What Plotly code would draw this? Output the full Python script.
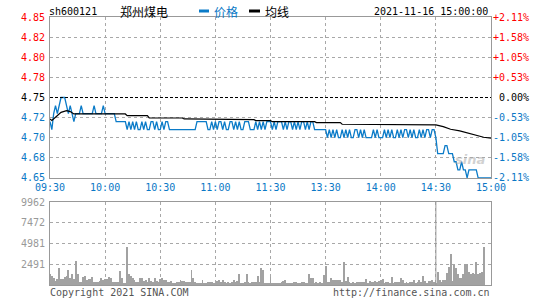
import plotly.graph_objects as go

# ---------------- data ----------------
symbol = "sh600121"
name = "郑州煤电"
timestamp = "2021-11-16 15:00:00"
legend_names = ["价格", "均线"]

time_ticks = [0, 30, 60, 90, 120, 150, 180, 210, 240]
time_labels = ["09:30", "10:00", "10:30", "11:00", "11:30", "13:30", "14:00", "14:30", "15:00"]

prev_close = 4.75
price_ticks = [4.85, 4.825, 4.80, 4.775, 4.75, 4.725, 4.70, 4.675, 4.65]
price_labels = ["4.85", "4.82", "4.80", "4.78", "4.75", "4.72", "4.70", "4.68", "4.65"]
pct_labels = ["+2.11%", "+1.58%", "+1.05%", "+0.53%", "0.00%", "-0.53%", "-1.05%", "-1.58%", "-2.11%"]

vol_ticks = [9962, 7472, 4981, 2491]
vol_labels = ["9962", "7472", "4981", "2491"]

# minute-by-minute price, morning (09:30-11:30) and afternoon (13:01-15:00)
price_am = [
    4.72, 4.71, 4.73, 4.74, 4.73, 4.74, 4.75, 4.75, 4.75, 4.74,
    4.73, 4.74, 4.73, 4.72, 4.73, 4.73, 4.73, 4.74, 4.73, 4.73,
    4.73, 4.73, 4.73, 4.73, 4.74, 4.73, 4.73, 4.73, 4.73, 4.74,
    4.73, 4.73, 4.73, 4.73, 4.73, 4.73, 4.72, 4.72, 4.72, 4.72,
    4.72, 4.72, 4.71, 4.72, 4.71, 4.72, 4.71, 4.72, 4.71, 4.71,
    4.72, 4.71, 4.72, 4.71, 4.71, 4.72, 4.72, 4.71, 4.72, 4.71,
    4.71, 4.72, 4.71, 4.72, 4.72, 4.71, 4.71, 4.71, 4.71, 4.71,
    4.71, 4.71, 4.71, 4.71, 4.71, 4.71, 4.71, 4.71, 4.71, 4.71,
    4.72, 4.72, 4.72, 4.72, 4.72, 4.72, 4.71, 4.71, 4.72, 4.71,
    4.72, 4.71, 4.72, 4.72, 4.71, 4.72, 4.71, 4.71, 4.72, 4.72,
    4.71, 4.72, 4.71, 4.72, 4.71, 4.71, 4.72, 4.72, 4.72, 4.71,
    4.71, 4.71, 4.72, 4.71, 4.72, 4.71, 4.72, 4.71, 4.72, 4.72,
    4.72,
]
price_pm = [
    4.71, 4.72, 4.71, 4.72, 4.72, 4.72, 4.71, 4.72, 4.71, 4.72,
    4.72, 4.71, 4.72, 4.71, 4.72, 4.71, 4.72, 4.72, 4.71, 4.72,
    4.71, 4.72, 4.72, 4.71, 4.71, 4.71, 4.71, 4.71, 4.71, 4.71,
    4.70, 4.71, 4.70, 4.71, 4.70, 4.71, 4.70, 4.70, 4.71, 4.70,
    4.71, 4.70, 4.71, 4.70, 4.70, 4.71, 4.71, 4.70, 4.71, 4.70,
    4.71, 4.70, 4.70, 4.70, 4.70, 4.71, 4.70, 4.71, 4.70, 4.70,
    4.70, 4.71, 4.70, 4.71, 4.70, 4.71, 4.70, 4.70, 4.71, 4.70,
    4.71, 4.70, 4.71, 4.71, 4.70, 4.71, 4.70, 4.71, 4.70, 4.70,
    4.71, 4.70, 4.71, 4.70, 4.71, 4.71, 4.70, 4.71, 4.71, 4.70,
    4.68, 4.68, 4.68, 4.68, 4.69, 4.69, 4.68, 4.68, 4.68, 4.67,
    4.67, 4.66, 4.66, 4.67, 4.66, 4.66, 4.65, 4.66, 4.66, 4.66,
    4.66, 4.66, 4.65, 4.65, 4.65, 4.65, 4.65, 4.65, 4.65, 4.65,
]

# average-price line read at its break points (minute index, value)
avg_minutes = [0, 1, 3, 6, 9, 11, 13, 41, 42, 53, 54, 72, 73, 90, 91, 111, 112, 120,
               121, 144, 145, 158, 159, 175, 176, 210, 214, 218, 223, 228, 232, 236, 240]
avg_values = [4.7233, 4.7215, 4.7255, 4.7315, 4.7336, 4.7325, 4.7295, 4.7295, 4.7274,
              4.7274, 4.7245, 4.7245, 4.7233, 4.7233, 4.7224, 4.7224, 4.7212, 4.7212,
              4.7199, 4.7199, 4.7187, 4.7187, 4.7167, 4.7167, 4.7158, 4.7158, 4.7137,
              4.7105, 4.7084, 4.7055, 4.7034, 4.7005, 4.6993]

volume_am = [
    1290, 1085, 800, 480, 680, 2010, 680, 760, 965, 1085,
    1770, 800, 1370, 680, 2890, 1290, 400, 400, 965, 1085,
    560, 680, 680, 1000, 400, 400, 320, 480, 880, 560,
    680, 680, 965, 800, 400, 400, 400, 400, 1690, 800,
    280, 300, 4580, 1370, 1085, 880, 560, 400, 400, 800,
    800, 480, 640, 400, 880, 480, 400, 880, 480, 400,
    680, 800, 560, 560, 320, 400, 480, 240, 240, 320,
    400, 640, 480, 480, 320, 320, 400, 1770, 800, 320,
    240, 240, 280, 560, 240, 240, 400, 320, 320, 240,
    240, 480, 640, 400, 640, 320, 240, 400, 240, 320,
    640, 320, 480, 1290, 240, 240, 320, 1370, 320, 240,
    320, 400, 400, 1085, 400, 2010, 1770, 240, 240, 280,
    965,
]
volume_pm = [
    160, 160, 160, 160, 160, 400, 480, 600, 160, 160,
    280, 160, 320, 400, 160, 160, 320, 400, 280, 280,
    1290, 800, 800, 240, 400, 280, 400, 280, 1200, 2330,
    400, 400, 800, 640, 560, 640, 560, 640, 320, 2810,
    480, 965, 320, 240, 400, 240, 400, 400, 320, 320,
    400, 720, 240, 480, 320, 320, 480, 400, 480, 560,
    720, 240, 320, 400, 240, 965, 280, 320, 400, 320,
    880, 560, 240, 400, 240, 320, 400, 560, 240, 400,
    560, 320, 1085, 480, 240, 480, 480, 640, 320, 240,
    1610, 560, 400, 560, 560, 1490, 2170, 3780, 480, 2410,
    2010, 1290, 880, 800, 1290, 2570, 2570, 1610, 1370, 1490,
    1290, 2810, 1290, 1490, 1610, 4580, 0, 0, 0, 0,
]

# ---------------- styling ----------------
BLUE = "#0b7bc8"
LBLUE = "#0a78c6"
RED = "#ff0000"
GRID = "#a8a8a8"
FRAME = "#999999"
MONO = "DejaVu Sans Mono"
CJK = "Noto Sans CJK SC"

W, H = 545, 300
L, R, T, B = 50, 491, 17, 285  # plot area pixels


def px(xp):
    return (xp - L) / (R - L)


def py(yp):
    return (B - yp) / (B - T)


price = price_am + price_pm
volume = volume_am + volume_pm
minutes = list(range(len(price)))
vol_minutes = list(range(len(volume)))

fig = go.Figure()
fig.add_trace(go.Bar(x=vol_minutes, y=volume, xaxis="x2", yaxis="y2",
                     marker=dict(color="#a2a2a2", line=dict(width=0)), width=0.5,
                     showlegend=False, hoverinfo="skip"))
fig.add_trace(go.Scatter(x=minutes, y=price, mode="lines",
                         line=dict(color=BLUE, width=1.3), showlegend=False))
fig.add_trace(go.Scatter(x=avg_minutes, y=avg_values, mode="lines",
                         line=dict(color="black", width=1.2), showlegend=False))

price_low = prev_close * (1 - 0.0211)
price_high = prev_close * (1 + 0.0211)
grid_prices = [v for v in price_ticks if v not in (price_ticks[0], price_ticks[-1], prev_close)]

fig.update_layout(
    width=W, height=H,
    margin=dict(l=L, r=W - R, t=T, b=H - B),
    paper_bgcolor="white", plot_bgcolor="white",
    bargap=0,
    xaxis=dict(domain=[0, 1], anchor="y", range=[0, 240],
               tickmode="array", tickvals=time_ticks, ticktext=time_labels,
               tickfont=dict(family=MONO, size=10, color=LBLUE), ticks="",
               showgrid=True, gridcolor=GRID, griddash="dot", gridwidth=1,
               showline=True, linecolor=FRAME, linewidth=1, mirror=True,
               zeroline=False, fixedrange=True),
    yaxis=dict(domain=[py(178), 1], anchor="x", range=[price_low, price_high],
               tickmode="array", tickvals=grid_prices, showticklabels=False,
               showgrid=True, gridcolor=GRID, griddash="dot", gridwidth=1,
               showline=True, linecolor=FRAME, linewidth=1, mirror=True,
               zeroline=False, ticks=""),
    xaxis2=dict(domain=[0, 1], anchor="y2", range=[0, 240], matches="x",
                tickmode="array", tickvals=time_ticks, showticklabels=False, ticks="",
                showgrid=True, gridcolor=GRID, griddash="dot", gridwidth=1,
                showline=True, linecolor=FRAME, linewidth=1, mirror=True,
                zeroline=False),
    yaxis2=dict(domain=[0, py(202)], anchor="x2", range=[0, vol_ticks[0]],
                tickmode="array", tickvals=vol_ticks[1:], showticklabels=False,
                showgrid=True, gridcolor=GRID, griddash="dot", gridwidth=1,
                showline=True, linecolor=FRAME, linewidth=1, mirror=True,
                zeroline=False, ticks=""),
)

shapes = []
# previous close dashed line
shapes.append(dict(type="line", xref="paper", yref="y", x0=0, x1=1,
                   y0=prev_close, y1=prev_close,
                   line=dict(color="black", width=1, dash="3px,2px")))
# solid 14:30 line in the volume panel
shapes.append(dict(type="line", xref="x2", yref="y2", x0=time_ticks[7], x1=time_ticks[7],
                   y0=0, y1=vol_ticks[0], line=dict(color=FRAME, width=1)))
# legend swatches
shapes.append(dict(type="rect", xref="paper", yref="paper",
                   x0=px(199), x1=px(209), y0=py(12.5), y1=py(9.5),
                   line=dict(width=0), fillcolor=BLUE))
shapes.append(dict(type="rect", xref="paper", yref="paper",
                   x0=px(249), x1=px(260), y0=py(12.5), y1=py(9.5),
                   line=dict(width=0), fillcolor="black"))
fig.update_layout(shapes=shapes)

ann = []


def label_color(i):
    if i < 4:
        return RED
    if i == 4:
        return "black"
    return LBLUE


for i, (v, t, p) in enumerate(zip(price_ticks, price_labels, pct_labels)):
    c = label_color(i)
    ann.append(dict(xref="paper", yref="y", x=px(47), y=v, text=t, showarrow=False,
                    xanchor="right", yanchor="middle",
                    font=dict(family=MONO, size=10, color=c)))
    ann.append(dict(xref="paper", yref="y", x=px(531), y=v, text=p, showarrow=False,
                    xanchor="right", yanchor="middle",
                    font=dict(family=MONO, size=10, color=c)))

for v, t in zip(vol_ticks, vol_labels):
    ann.append(dict(xref="paper", yref="y2", x=px(47), y=v, text=t, showarrow=False,
                    xanchor="right", yanchor="middle",
                    font=dict(family=MONO, size=10, color="#999999")))

# header
ann.append(dict(xref="paper", yref="paper", x=px(47), y=py(11), text=symbol, showarrow=False,
                xanchor="left", yanchor="middle", font=dict(family=MONO, size=10, color="black")))
ann.append(dict(xref="paper", yref="paper", x=px(118), y=py(11), text=name, showarrow=False,
                xanchor="left", yanchor="middle", font=dict(family=CJK, size=12, color="black")))
ann.append(dict(xref="paper", yref="paper", x=px(212), y=py(11), text=legend_names[0], showarrow=False,
                xanchor="left", yanchor="middle", font=dict(family=CJK, size=12, color=LBLUE)))
ann.append(dict(xref="paper", yref="paper", x=px(263), y=py(11), text=legend_names[1], showarrow=False,
                xanchor="left", yanchor="middle", font=dict(family=CJK, size=12, color="black")))
ann.append(dict(xref="paper", yref="paper", x=px(490), y=py(11), text=timestamp, showarrow=False,
                xanchor="right", yanchor="middle", font=dict(family=MONO, size=10, color="black")))

# footer
ann.append(dict(xref="paper", yref="paper", x=px(48), y=py(292), text="Copyright 2021 SINA.COM",
                showarrow=False, xanchor="left", yanchor="middle",
                font=dict(family=MONO, size=10, color="#555555")))
ann.append(dict(xref="paper", yref="paper", x=px(492), y=py(292), text="http://finance.sina.com.cn",
                showarrow=False, xanchor="right", yanchor="middle",
                font=dict(family=MONO, size=10, color="#555555")))

# watermark
ann.append(dict(xref="paper", yref="paper", x=px(470), y=py(160), text="<i><b>sina</b></i>",
                showarrow=False, xanchor="center", yanchor="middle",
                font=dict(family="DejaVu Sans", size=13, color="rgba(170,170,170,0.55)")))

fig.update_layout(annotations=ann)

fig.write_html("out.html")
